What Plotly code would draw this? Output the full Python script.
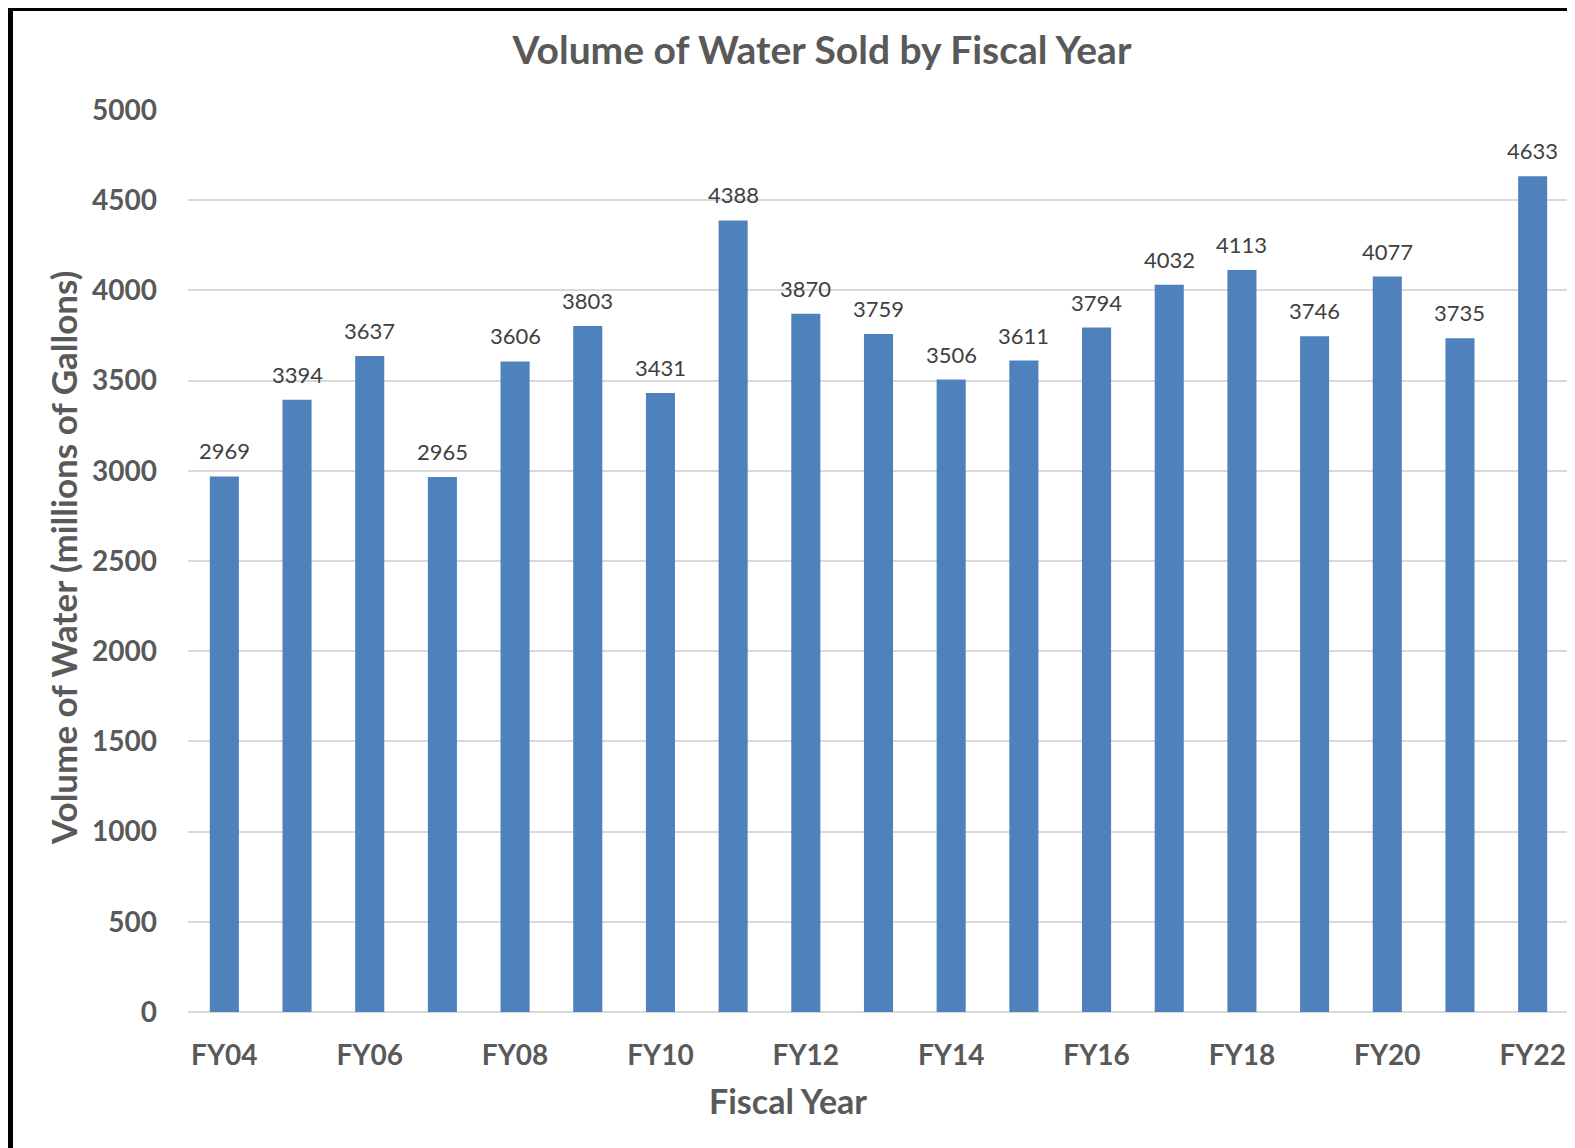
import plotly.graph_objects as go

categories = ["FY04", "FY05", "FY06", "FY07", "FY08", "FY09", "FY10", "FY11", "FY12", "FY13",
              "FY14", "FY15", "FY16", "FY17", "FY18", "FY19", "FY20", "FY21", "FY22"]
volumes = [2969, 3394, 3637, 2965, 3606, 3803, 3431, 4388, 3870, 3759,
           3506, 3611, 3794, 4032, 4113, 3746, 4077, 3735, 4633]
shown_ticks = categories[::2]
y_ticks = [0, 500, 1000, 1500, 2000, 2500, 3000, 3500, 4000, 4500, 5000]

GRAY = "#595959"
FONT = "Lato"
OFF = 8  # page body margin

fig = go.Figure(go.Bar(
    x=categories, y=volumes,
    marker=dict(color="#4F81BD", line=dict(width=0)),
    hoverinfo="x+y",
))

for c, v in zip(categories, volumes):
    fig.add_annotation(x=c, y=v, text=str(v), xref="x", yref="y", showarrow=False,
                       yanchor="bottom", xanchor="center", yshift=10,
                       font=dict(family=FONT, size=22, color="#404040"))

W, H = 1575 - OFF, 1148 - OFF
ml, mt = 188 - OFF, 110 - OFF
mr = W - (1569 - OFF)
mb = H - (1012 - OFF)
plot_w = W - ml - mr
plot_h = H - mt - mb

fig.update_layout(
    width=W, height=H,
    margin=dict(l=ml, r=mr, t=mt, b=mb, autoexpand=False),
    paper_bgcolor="white", plot_bgcolor="white",
    bargap=0.6, showlegend=False,
    font=dict(family=FONT, color=GRAY),
    title=dict(text="<b>Volume of Water Sold by Fiscal Year</b>", xref="container",
               x=(822 - OFF) / W, xanchor="center", yref="container",
               y=1 - (50 - OFF) / H, yanchor="middle",
               font=dict(family=FONT, size=39, color=GRAY)),
    xaxis=dict(type="category", range=[-0.5, 18.5], tickmode="array", tickvals=shown_ticks,
               ticktext=[f"<b>{t}</b>" for t in shown_ticks], ticks="", showgrid=False,
               tickfont=dict(family=FONT, size=28, color=GRAY), ticklabelstandoff=24,
               showline=False, zeroline=False),
    yaxis=dict(range=[0, 5000], tickmode="array", tickvals=y_ticks,
               ticktext=[f"<b>{t}</b>" for t in y_ticks], showgrid=True,
               gridcolor="#D9D9D9", gridwidth=2, zeroline=True, zerolinecolor="#D9D9D9",
               zerolinewidth=2, tickfont=dict(family=FONT, size=28, color=GRAY),
               ticks="", ticklabelstandoff=30, showline=False),
)

fig.add_annotation(text="<b>Fiscal Year</b>", xref="paper", yref="paper",
                   x=(788 - OFF - ml) / plot_w, y=-(1100 - 1012) / plot_h,
                   xanchor="center", yanchor="middle", showarrow=False,
                   font=dict(family=FONT, size=34, color=GRAY))
fig.add_annotation(text="<b>Volume of Water (millions of Gallons)</b>", xref="paper", yref="paper",
                   x=(63 - OFF - ml) / plot_w, y=1 - (558 - 110) / plot_h, textangle=-90,
                   xanchor="center", yanchor="middle", showarrow=False,
                   font=dict(family=FONT, size=35, color=GRAY))

# frame: black lines on the left and top edges
fig.add_shape(type="rect", xref="paper", yref="paper", xsizemode="pixel", ysizemode="pixel",
              xanchor=0, yanchor=1, x0=-ml, x1=-ml + 5, y0=mt, y1=-(H - mt),
              fillcolor="black", line=dict(width=0), layer="above")
fig.add_shape(type="rect", xref="paper", yref="paper", xsizemode="pixel", ysizemode="pixel",
              xanchor=0, yanchor=1, x0=-ml, x1=W - ml, y0=mt, y1=mt - 3,
              fillcolor="black", line=dict(width=0), layer="above")

fig.write_html("out.html")
